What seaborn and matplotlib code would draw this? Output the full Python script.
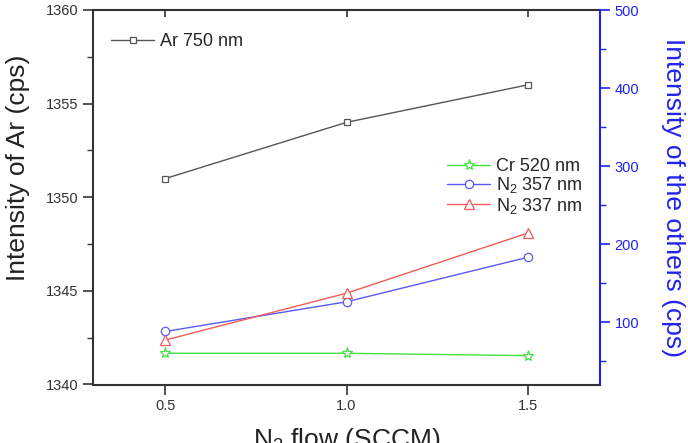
import matplotlib
matplotlib.use("Agg")
import matplotlib.pyplot as plt
import seaborn as sns
from matplotlib.ticker import MultipleLocator

flow = [0.5, 1.0, 1.5]
ar_750 = [1351.0, 1354.0, 1356.0]
cr_520 = [60.0, 60.0, 57.0]
n2_357 = [88.0, 126.0, 183.0]
n2_337 = [77.0, 137.0, 214.0]

sns.set_theme(style="ticks")
plt.rcParams['font.family'] = ['Liberation Sans', 'DejaVu Sans']
plt.rcParams['mathtext.fontset'] = 'custom'
plt.rcParams['mathtext.rm'] = 'Liberation Sans'
plt.rcParams['mathtext.it'] = 'Liberation Sans'

fig = plt.figure(figsize=(6.88, 4.43), dpi=100)
ax = fig.add_axes([93/688, 1 - 384.5/443, (600-93)/688, (384.5-10)/443])
ax2 = ax.twinx()

c_ar = '#555555'
c_cr = '#44e044'
c_357 = '#5a5af0'
c_337 = '#f05a5a'

sns.lineplot(x=flow, y=ar_750, ax=ax, color=c_ar, marker='s', markersize=5,
             markerfacecolor='white', markeredgecolor=c_ar, markeredgewidth=0.9,
             linewidth=1.0, label='Ar 750 nm', legend=False)
sns.lineplot(x=flow, y=cr_520, ax=ax2, color=c_cr, marker='*', markersize=8,
             markerfacecolor='white', markeredgecolor=c_cr, markeredgewidth=0.9,
             linewidth=1.0, label='Cr 520 nm', legend=False)
sns.lineplot(x=flow, y=n2_357, ax=ax2, color=c_357, marker='o', markersize=6,
             markerfacecolor='white', markeredgecolor=c_357, markeredgewidth=0.9,
             linewidth=1.0, label=r'N$_\mathregular{2}$ 357 nm', legend=False)
sns.lineplot(x=flow, y=n2_337, ax=ax2, color=c_337, marker='^', markersize=7,
             markerfacecolor='white', markeredgecolor=c_337, markeredgewidth=0.9,
             linewidth=1.0, label=r'N$_\mathregular{2}$ 337 nm', legend=False)

ax.set_xlim(0.3, 1.7)
ax.set_ylim(1340, 1360)
ax.set_xticks(flow)
ax.set_xticklabels(['0.5', '1.0', '1.5'])
ax.yaxis.set_major_locator(MultipleLocator(5))
ax.yaxis.set_minor_locator(MultipleLocator(2.5))
ax2.set_yticks([100, 200, 300, 400, 500])
ax2.yaxis.set_minor_locator(MultipleLocator(50))
ax2.set_ylim(20, 500)

for s in ['left', 'bottom', 'top']:
    ax.spines[s].set_color('#333333')
    ax.spines[s].set_linewidth(1.5)
ax.spines['right'].set_visible(False)
ax2.spines['right'].set_color('#2222ee')
ax2.spines['right'].set_linewidth(1.5)
for s in ['left', 'bottom', 'top']:
    ax2.spines[s].set_visible(False)

ax.tick_params(axis='y', which='major', direction='out', length=7, width=1.2,
               colors='#333333', labelsize=10.5, labelcolor='#333333')
ax.tick_params(axis='y', which='minor', direction='out', length=4, width=1.0, colors='#333333')
ax.tick_params(axis='x', which='major', direction='out', length=7, width=1.2,
               colors='#333333', labelsize=10.5, top=True, labeltop=False)
ax2.tick_params(axis='y', which='major', direction='out', length=7, width=1.2,
                colors='#2222ee', labelsize=10.5)
ax2.tick_params(axis='y', which='minor', direction='out', length=4, width=1.0, colors='#2222ee')

for t in ax.xaxis.get_major_ticks():
    t.tick2line.set_marker(3)  # tick pointing down (inward) on top spine
    t.tick2line.set_markersize(5)

ax.set_ylabel('Intensity of Ar (cps)', fontsize=19, color='#222222')
ax.yaxis.set_label_coords(-0.125, 0.578)
ax2.set_ylabel('Intensity of the others (cps)', fontsize=19, color='#2222ee',
               rotation=270, labelpad=33)
ax.set_xlabel(r'N$_\mathregular{2}$ flow (SCCM)', fontsize=19, color='#222222', labelpad=9)

h1, l1 = ax.get_legend_handles_labels()
ax.legend(h1, l1, loc='upper left', bbox_to_anchor=(111/688, 1 - 33/443),
          bbox_transform=fig.transFigure, frameon=False, fontsize=13,
          handlelength=2.4, handletextpad=0.3, borderaxespad=0, borderpad=0)
h2, l2 = ax2.get_legend_handles_labels()
ax2.legend(h2, l2, loc='upper left', bbox_to_anchor=(447/688, 1 - 158/443),
           bbox_transform=fig.transFigure, frameon=False, fontsize=13,
           handlelength=2.4, handletextpad=0.3, borderaxespad=0, borderpad=0,
           labelspacing=0.02)

fig.savefig('out.png', dpi=100)
